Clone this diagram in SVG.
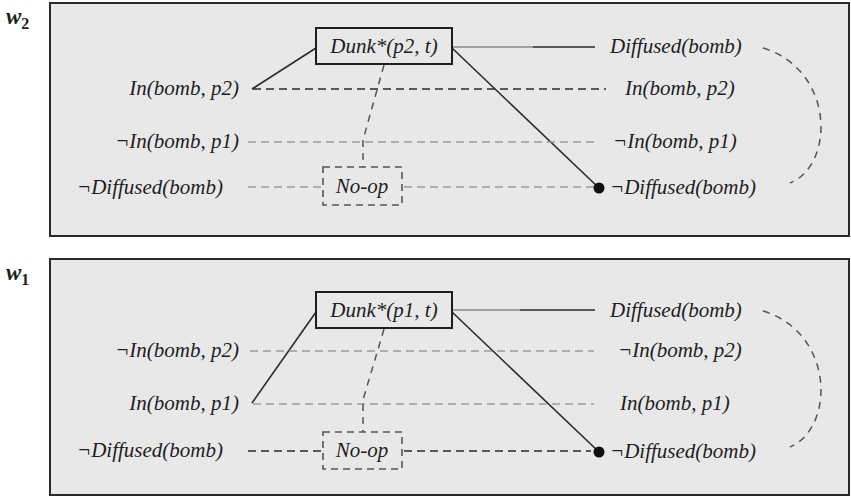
<svg xmlns="http://www.w3.org/2000/svg" width="851" height="496" viewBox="0 0 851 496">
<style>
  .panel { fill:#e8e8e8; stroke:#2a2a2a; stroke-width:2; }
  .t { font-family:"Liberation Serif","Times New Roman",serif; font-style:italic; font-size:21px; fill:#1e1e1e; }
  .end { text-anchor:end; }
  .mid { text-anchor:middle; }
  .lbl { font-family:"Liberation Serif","Times New Roman",serif; font-weight:bold; font-style:italic; fill:#1e1e1e; }
  .box { fill:#e8e8e8; stroke:#1e1e1e; stroke-width:2; }
  .nop { fill:#e8e8e8; stroke:#555; stroke-width:1.6; stroke-dasharray:7 5; }
  .solid { fill:none; stroke:#2a2a2a; stroke-width:1.6; }
  .solidg { fill:none; stroke:#8a8a8a; stroke-width:1.6; }
  .dk { fill:none; stroke:#2a2a2a; stroke-width:1.6; stroke-dasharray:8 5; }
  .gr { fill:none; stroke:#9a9a9a; stroke-width:1.6; stroke-dasharray:8 5; }
  .lk { fill:none; stroke:#555; stroke-width:1.5; stroke-dasharray:7 6; }
</style>

<!-- panels -->
<g id="panel-w2">
  <rect class="panel" x="50" y="3" width="799" height="233"/>
  <text class="lbl" x="6" y="24" font-size="23">w<tspan font-size="16" font-style="normal" dy="5">2</tspan></text>
</g>
<g id="panel-w1">
  <rect class="panel" x="50" y="259" width="799" height="236"/>
  <text class="lbl" x="6" y="280" font-size="23">w<tspan font-size="16" font-style="normal" dy="5">1</tspan></text>
</g>

<!-- connectors -->
<g id="connectors">
  <!-- top panel -->
  <line class="solid" x1="316" y1="48" x2="252" y2="89"/>
  <line class="solidg" x1="452" y1="47" x2="533" y2="47"/>
  <line class="solid" x1="533" y1="47" x2="595" y2="47"/>
  <line class="solid" x1="452" y1="48" x2="599" y2="188"/>
  <line class="dk" x1="253" y1="89" x2="606" y2="89"/>
  <line class="gr" x1="248" y1="142" x2="594" y2="142"/>
  <line class="gr" x1="248" y1="187" x2="322" y2="187"/>
  <line class="gr" x1="404" y1="187" x2="594" y2="187"/>
  <path class="lk" d="M384,65 L363,140 L363,167"/>
  <path class="lk" d="M763,48 C835,70 835,165 790,183"/>
  <!-- bottom panel -->
  <line class="solid" x1="316" y1="312" x2="252" y2="403"/>
  <line class="solidg" x1="452" y1="310" x2="520" y2="310"/>
  <line class="solid" x1="520" y1="310" x2="595" y2="310"/>
  <line class="solid" x1="452" y1="312" x2="599" y2="452"/>
  <line class="gr" x1="250" y1="351" x2="594" y2="351"/>
  <line class="gr" x1="253" y1="404" x2="594" y2="404"/>
  <line class="dk" x1="248" y1="451" x2="322" y2="451"/>
  <line class="dk" x1="404" y1="451" x2="591" y2="451"/>
  <path class="lk" d="M384,329 L363,400 L363,432"/>
  <path class="lk" d="M763,311 C835,333 835,428 790,447"/>
</g>

<!-- top panel nodes -->
<g id="w2-dunk">
  <rect class="box" x="316" y="28" width="136" height="36"/>
  <text class="t mid" x="384" y="53">Dunk*(p2, t)</text>
</g>
<g id="w2-noop">
  <rect class="nop" x="323" y="167" width="79" height="38"/>
  <text class="t mid" x="362" y="193">No-op</text>
</g>
<g id="w2-l-in-p2"><text class="t end" x="239" y="95">In(bomb, p2)</text></g>
<g id="w2-l-nin-p1"><text class="t end" x="239" y="148">¬In(bomb, p1)</text></g>
<g id="w2-l-ndiff"><text class="t end" x="223" y="194">¬Diffused(bomb)</text></g>
<g id="w2-r-diff"><text class="t" x="610" y="53">Diffused(bomb)</text></g>
<g id="w2-r-in-p2"><text class="t" x="625" y="95">In(bomb, p2)</text></g>
<g id="w2-r-nin-p1"><text class="t" x="613" y="148">¬In(bomb, p1)</text></g>
<g id="w2-r-ndiff">
  <circle cx="599" cy="188" r="5.5" fill="#111"/>
  <text class="t" x="610" y="194">¬Diffused(bomb)</text>
</g>

<!-- bottom panel nodes -->
<g id="w1-dunk">
  <rect class="box" x="316" y="292" width="136" height="36"/>
  <text class="t mid" x="384" y="317">Dunk*(p1, t)</text>
</g>
<g id="w1-noop">
  <rect class="nop" x="323" y="432" width="79" height="37"/>
  <text class="t mid" x="362" y="457">No-op</text>
</g>
<g id="w1-l-nin-p2"><text class="t end" x="239" y="357">¬In(bomb, p2)</text></g>
<g id="w1-l-in-p1"><text class="t end" x="239" y="410">In(bomb, p1)</text></g>
<g id="w1-l-ndiff"><text class="t end" x="223" y="457">¬Diffused(bomb)</text></g>
<g id="w1-r-diff"><text class="t" x="610" y="317">Diffused(bomb)</text></g>
<g id="w1-r-nin-p2"><text class="t" x="618" y="357">¬In(bomb, p2)</text></g>
<g id="w1-r-in-p1"><text class="t" x="620" y="410">In(bomb, p1)</text></g>
<g id="w1-r-ndiff">
  <circle cx="599" cy="452" r="5.5" fill="#111"/>
  <text class="t" x="610" y="458">¬Diffused(bomb)</text>
</g>
</svg>
